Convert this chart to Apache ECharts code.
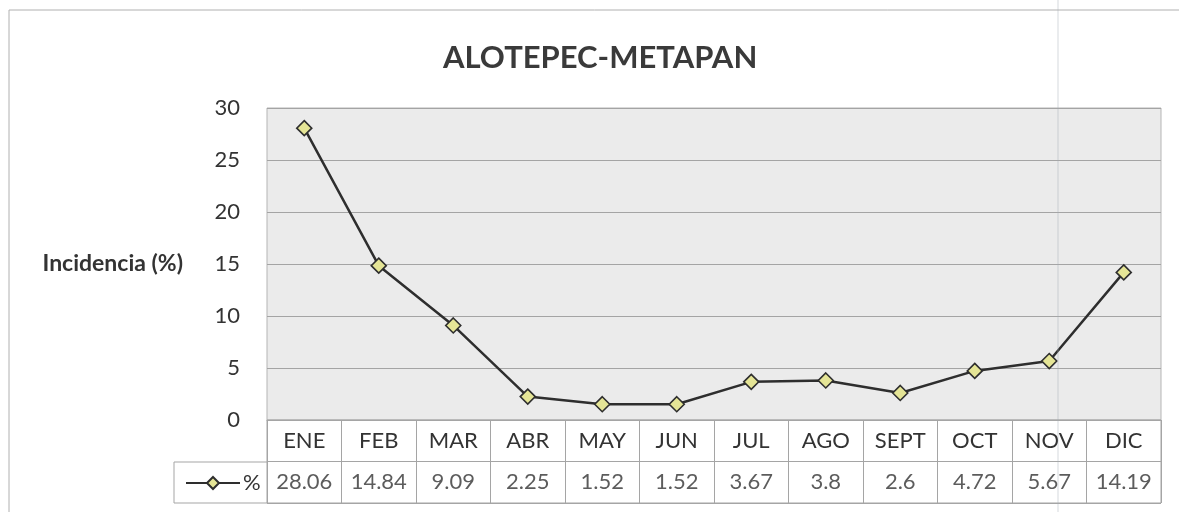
<!DOCTYPE html>
<html>
<head>
<meta charset="utf-8">
<script src="https://cdn.jsdelivr.net/npm/echarts@6/dist/echarts.min.js"></script>
<style>
  html,body{margin:0;padding:0;background:#fff;}
  #chart{width:1179px;height:512px;}
</style>
</head>
<body>
<div id="chart"></div>
<script>
// datos
var meses = ['ENE','FEB','MAR','ABR','MAY','JUN','JUL','AGO','SEPT','OCT','NOV','DIC'];
var incidencia = [28.06, 14.84, 9.09, 2.25, 1.52, 1.52, 3.67, 3.8, 2.6, 4.72, 5.67, 14.19];
var filasTabla = ['mes', 'valor'];
var yTicks = [0, 5, 10, 15, 20, 25, 30];

var fuente = 'Lato, "Open Sans", sans-serif';
var myChart = echarts.init(document.getElementById('chart'));

// celdas de la fila de valores (texto de la tabla)
var celdas = [];
meses.forEach(function(m, i){
  celdas.push({ value: [m, 'valor'], txt: String(incidencia[i]) });
});

var option = {
  animation: false,
  title: {
    text: 'ALOTEPEC-METAPAN',
    left: 438,
    top: 37,
    textStyle: { fontFamily: fuente, fontSize: 31, fontWeight: 'bold', color: '#3a3a3a' }
  },
  legend: {
    left: 180,
    top: 467,
    itemWidth: 54,
    itemHeight: 15,
    itemGap: 4,
    data: ['%'],
    textStyle: { fontFamily: fuente, fontSize: 22, color: '#333', padding: [0,0,0,-2] }
  },
  graphic: [
    { type: 'rect', shape: { x: 9, y: 10, width: 1400, height: 700 }, style: { fill: null, stroke: '#b0b0b0', lineWidth: 1 }, silent: true },
    { type: 'rect', shape: { x: 174, y: 462, width: 93, height: 41 }, style: { fill: '#fff', stroke: '#a5a5a5', lineWidth: 1 }, silent: true, z: 0 },
    { type: 'line', shape: { x1: 1058, y1: 0, x2: 1058, y2: 512 }, style: { stroke: 'rgba(160,170,180,0.45)', lineWidth: 1 }, silent: true, z: 100 }
  ],
  grid: [
    { left: 267, right: 18, top: 108, height: 312, show: true, backgroundColor: '#ebebeb', borderColor: '#b5b5b5', borderWidth: 1 },
    { left: 267, right: 18, top: 420, height: 83, show: true, backgroundColor: '#fff', borderColor: '#a5a5a5', borderWidth: 1 }
  ],
  xAxis: [
    {
      type: 'category', gridIndex: 0, data: meses, boundaryGap: true,
      axisLine: { show: true, lineStyle: { color: '#a5a5a5' } },
      axisTick: { show: false },
      splitLine: { show: false },
      axisLabel: { margin: 10, interval: 0, fontFamily: fuente, fontSize: 22, color: '#333' }
    },
    {
      type: 'category', gridIndex: 1, data: meses, boundaryGap: true,
      axisLine: { show: false }, axisTick: { show: false },
      axisLabel: { show: false },
      splitLine: { show: true, interval: 0, lineStyle: { color: '#a5a5a5' } }
    }
  ],
  yAxis: [
    {
      type: 'value', gridIndex: 0, min: 0, max: 30, interval: 5,
      name: 'Incidencia (%)', nameLocation: 'middle', nameRotate: 0, nameGap: 84,
      nameTextStyle: { fontFamily: fuente, fontSize: 23, fontWeight: 'bold', color: '#333', padding: [8,0,0,0] },
      axisLine: { show: false }, axisTick: { show: false },
      axisLabel: { margin: 27, fontFamily: fuente, fontSize: 22, color: '#333',
        formatter: function(v){ return yTicks.indexOf(v) >= 0 ? v : ''; } },
      splitLine: { show: true, lineStyle: { color: '#a4a4a4', width: 1 } }
    },
    {
      type: 'category', gridIndex: 1, data: filasTabla, inverse: true,
      axisLine: { show: false }, axisTick: { show: false }, axisLabel: { show: false },
      splitLine: { show: true, interval: 0, lineStyle: { color: '#a5a5a5' } }
    }
  ],
  series: [
    {
      name: '%',
      type: 'line',
      xAxisIndex: 0, yAxisIndex: 0,
      data: incidencia,
      symbol: 'diamond',
      symbolSize: 15,
      showAllSymbol: true,
      lineStyle: { color: '#2e2e2e', width: 2.5 },
      itemStyle: { color: '#e5e596', borderColor: '#2e2e2e', borderWidth: 1.6 },
      z: 3
    },
    {
      name: 'tabla',
      type: 'scatter',
      xAxisIndex: 1, yAxisIndex: 1,
      symbolSize: 0,
      data: celdas,
      label: {
        show: true, position: 'inside',
        formatter: function(p){ return p.data.txt; },
        fontFamily: fuente, fontSize: 22, color: '#333'
      },
      silent: true
    }
  ]
};
myChart.setOption(option, true);
</script>
</body>
</html>
